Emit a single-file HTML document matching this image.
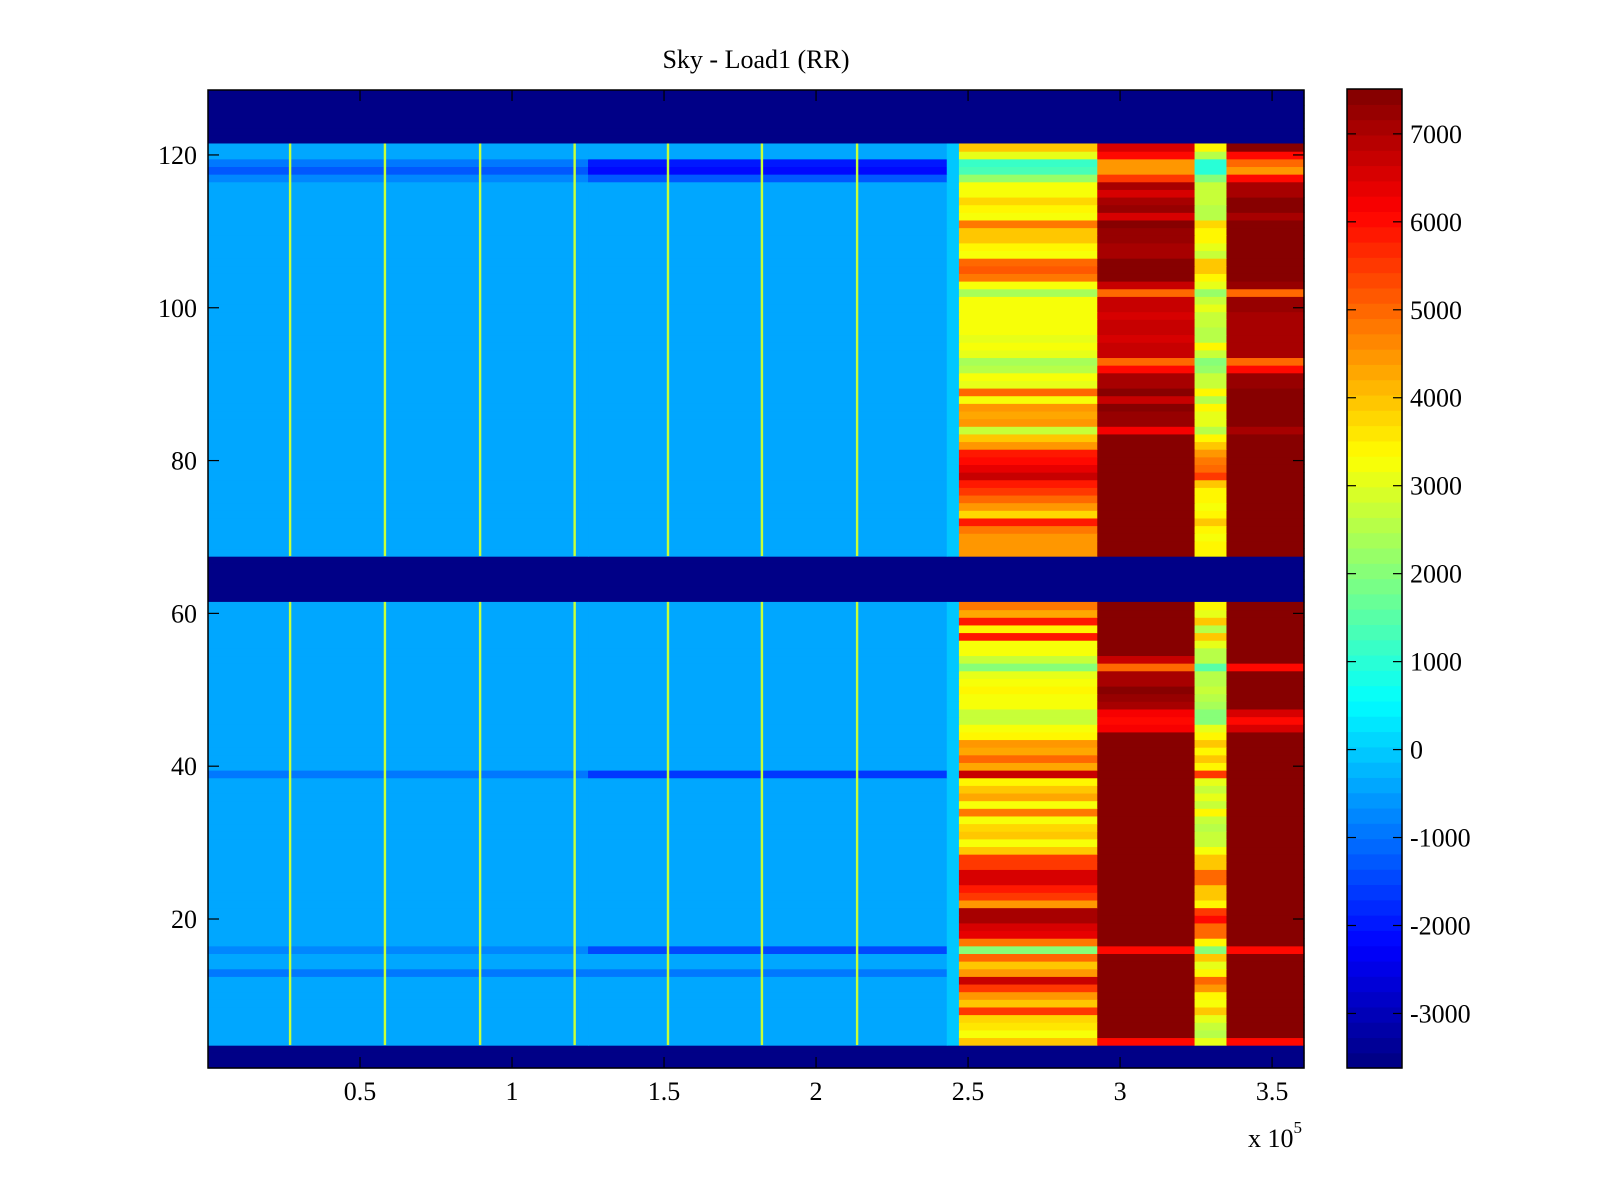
<!DOCTYPE html>
<html>
<head>
<meta charset="utf-8">
<style>
  html,body{margin:0;padding:0;background:#fff;}
  svg{display:block;font-family:"Liberation Serif","DejaVu Serif",serif;}
</style>
</head>
<body>
<svg id="chart" width="1600" height="1200" viewBox="0 0 1600 1200" xmlns="http://www.w3.org/2000/svg">
  <rect x="0" y="0" width="1600" height="1200" fill="#fff"/>
  <text x="756" y="68" font-size="26" text-anchor="middle">Sky - Load1 (RR)</text>
  <g id="heat"></g>
  <g id="vlines"></g>
  <rect x="208" y="90" width="1096" height="978" fill="none" stroke="#000" stroke-width="1.5"/>
  <g id="xaxis"></g>
  <g id="yaxis"></g>
  <text x="1248" y="1147" font-size="26">x 10<tspan dy="-14" font-size="17">5</tspan></text>
  <g id="cbar"></g>
</svg>
<script>
// ---- data ----
const clim = [-3620, 7510];
const blankValue = -3620;
const xEdges = [0, 1.25, 2.43, 2.47, 2.925, 3.245, 3.35, 3.605]; // x10^5
const region1Base = -450;
const region1Edge = -100;
const region1Rows = [119, 118, 117, 39, 16, 13];
const region1A = [-1000, -1200, -800, -900, -800, -900];
const region1B = [-2000, -2200, -1300, -1700, -1400, -1000];
const stripeX = [0.27, 0.582, 0.895, 1.206, 1.513, 1.822, 2.135];
const stripeValue = 2800;
const blankRows = [128,127,126,125,124,123,122,67,66,65,64,63,62,3,2,1];
// rows 121..68
const seg2Upper = [4000,3000,1200,1300,2200,3300,3300,3800,3500,3200,4800,4000,4000,3500,3300,5000,5200,4800,3300,2300,3200,3300,3200,3300,3200,3000,3200,3000,2300,2500,3200,3000,5000,3200,4500,4300,4500,2800,4000,4500,5800,6000,6300,6800,5800,5500,5000,4500,3800,5800,4800,4500,4500,4500];
const seg3Upper = [6500,6000,4500,4500,5500,7000,6500,7000,7200,6500,7500,7300,7300,7000,7000,7500,7500,7500,6800,5000,6800,6800,6500,6800,6800,6500,6800,6800,5000,6000,7000,7000,7500,6800,7500,7300,7300,6200,7500,7500,7500,7500,7500,7500,7500,7500,7500,7500,7500,7500,7500,7500,7500,7500];
const seg4Upper = [3500,2500,1000,1000,2000,2800,2800,2800,2500,2500,3800,3500,3500,3000,2800,4000,4000,3500,3000,2200,2800,3000,2800,2800,2500,2500,3500,2800,2000,2200,2800,2800,3500,2500,3500,3000,3000,2500,3500,4000,4500,4800,5000,5500,4000,3500,3500,3200,3500,4000,3500,3300,3500,3500];
const seg5Upper = [7500,6000,5000,4500,6000,7000,7000,7500,7500,7000,7500,7500,7500,7500,7500,7500,7500,7500,7300,5000,7300,7300,7000,7000,7000,7000,7000,7000,5000,6000,7300,7300,7500,7500,7500,7500,7500,7000,7500,7500,7500,7500,7500,7500,7500,7500,7500,7500,7500,7500,7500,7500,7500,7500];
// rows 61..4
const seg2Lower = [4800,4300,5800,3500,5800,3300,3200,2800,2000,3000,3200,3500,3300,3300,2700,2700,3300,3500,4500,4300,5000,4300,6800,3500,4000,4300,3300,4800,3300,3800,4000,3300,4000,5500,5500,6500,6500,5800,5500,4500,7000,7000,6500,6300,4800,2000,5000,4000,4500,6800,5500,4500,4000,5500,3800,3600,3300,4000];
const seg3Lower = [7500,7500,7500,7500,7500,7500,7500,6800,5000,7000,7000,7500,7200,7000,6200,6000,6200,7500,7500,7500,7500,7500,7500,7500,7500,7500,7500,7500,7500,7500,7500,7500,7500,7500,7500,7500,7500,7500,7500,7500,7500,7500,7500,7500,7500,6000,7500,7500,7500,7500,7500,7500,7500,7500,7500,7500,7500,6000];
const seg4Lower = [3500,3000,4000,2500,4000,3000,2500,2500,1500,2500,2500,2800,2500,2300,2000,2000,3000,3500,4000,3500,4000,3500,5500,3000,2800,3000,2800,3500,2800,2500,2800,2800,3200,4000,4000,5000,5000,4000,4000,3500,5500,6000,5000,5000,3500,2000,4000,3000,3500,5000,4500,3500,3300,4000,3000,2800,2500,3000];
const seg5Lower = [7500,7500,7500,7500,7500,7500,7500,7500,6000,7500,7500,7500,7500,7500,6500,6000,6500,7500,7500,7500,7500,7500,7500,7500,7500,7500,7500,7500,7500,7500,7500,7500,7500,7500,7500,7500,7500,7500,7500,7500,7500,7500,7500,7500,7500,6000,7500,7500,7500,7500,7500,7500,7500,7500,7500,7500,7500,6000];
const xTicks = [0.5, 1, 1.5, 2, 2.5, 3, 3.5];
const xTickLabels = ["0.5","1","1.5","2","2.5","3","3.5"];
const yTicks = [20, 40, 60, 80, 100, 120];
const yTickLabels = ["20","40","60","80","100","120"];
const cTicks = [-3000,-2000,-1000,0,1000,2000,3000,4000,5000,6000,7000];
const cTickLabels = ["-3000","-2000","-1000","0","1000","2000","3000","4000","5000","6000","7000"];

// ---- scales ----
const PL=208, PR=1304, PT=90, PB=1068;
const xMin=0, xMax=3.605, yMin=0.5, yMax=128.5;
function xs(v){return PL+(v-xMin)/(xMax-xMin)*(PR-PL);}
function ys(v){return PT+(yMax-v)/(yMax-yMin)*(PB-PT);}
const CL=1347, CR=1402, CT=89, CB=1068;
function cs(v){return CB-(v-clim[0])/(clim[1]-clim[0])*(CB-CT);}
function jet(v){
  let t=(v-clim[0])/(clim[1]-clim[0]);
  t=Math.max(0,Math.min(1,t));
  t=(Math.min(63,Math.floor(t*64))+0.5)/64;
  const c=x=>Math.round(255*Math.max(0,Math.min(1,x)));
  return `rgb(${c(1.5-Math.abs(4*t-3))},${c(1.5-Math.abs(4*t-2))},${c(1.5-Math.abs(4*t-1))})`;
}
const NS="http://www.w3.org/2000/svg";
function mk(tag,attrs,parent){const e=document.createElementNS(NS,tag);for(const k in attrs)e.setAttribute(k,attrs[k]);parent.appendChild(e);return e;}

// ---- heatmap ----
const heat=document.getElementById('heat');
const rowVals={};
for(let i=0;i<seg2Upper.length;i++){rowVals[121-i]=[seg2Upper[i],seg3Upper[i],seg4Upper[i],seg5Upper[i]];}
for(let i=0;i<seg2Lower.length;i++){rowVals[61-i]=[seg2Lower[i],seg3Lower[i],seg4Lower[i],seg5Lower[i]];}
function cell(x0,x1,r,v,name){
  const y0=ys(r+0.5), y1=ys(r-0.5);
  const e=mk('rect',{x:xs(x0).toFixed(2),y:y0.toFixed(2),width:(xs(x1)-xs(x0)+0.6).toFixed(2),height:(y1-y0+0.6).toFixed(2),fill:jet(v)},heat);
  
  
}
for(const r of blankRows){cell(xEdges[0],xEdges[xEdges.length-1],r,blankValue,'blank-row');}
for(const rk in rowVals){
  const r=+rk, vals=rowVals[rk];
  const k=region1Rows.indexOf(r);
  const a=k>=0?region1A[k]:region1Base, b=k>=0?region1B[k]:region1Base;
  cell(xEdges[0],xEdges[1],r,a,'cell-region1a');
  cell(xEdges[1],xEdges[2],r,b,'cell-region1b');
  cell(xEdges[2],xEdges[3],r,region1Edge,'cell-region1-edge');
  cell(xEdges[3],xEdges[4],r,vals[0],'cell-region2');
  cell(xEdges[4],xEdges[5],r,vals[1],'cell-region3');
  cell(xEdges[5],xEdges[6],r,vals[2],'cell-region4');
  cell(xEdges[6],xEdges[7],r,vals[3],'cell-region5');
}
// vertical stripes
const vl=document.getElementById('vlines');
const bands=[[121,68],[61,4]];
for(const sx of stripeX){
  for(const [hi,lo] of bands){
    const e=mk('rect',{x:(xs(sx)-1.2).toFixed(2),y:ys(hi+0.5).toFixed(2),width:2.4,height:(ys(lo-0.5)-ys(hi+0.5)).toFixed(2),fill:jet(stripeValue)},vl);
    
    
  }
}
// ---- axes ----
const xa=document.getElementById('xaxis');
xTicks.forEach((t,i)=>{
  const x=xs(t);
  const a=mk('line',{x1:x,x2:x,y1:PB,y2:PB-11,stroke:'#000','stroke-width':1.2},xa);
  
  
  const b=mk('line',{x1:x,x2:x,y1:PT,y2:PT+11,stroke:'#000','stroke-width':1.2},xa);
  
  
  const tx=mk('text',{x:x,y:1100,'font-size':26,'text-anchor':'middle'},xa);
  tx.textContent=xTickLabels[i];
  
  
});
const ya=document.getElementById('yaxis');
yTicks.forEach((t,i)=>{
  const y=ys(t);
  const a=mk('line',{x1:PL,x2:PL+11,y1:y,y2:y,stroke:'#000','stroke-width':1.2},ya);
  
  
  const b=mk('line',{x1:PR,x2:PR-11,y1:y,y2:y,stroke:'#000','stroke-width':1.2},ya);
  
  
  const tx=mk('text',{x:197,y:y+9,'font-size':26,'text-anchor':'end'},ya);
  tx.textContent=yTickLabels[i];
  
  
});
// ---- colorbar ----
const cb=document.getElementById('cbar');
for(let i=0;i<64;i++){
  const v0=clim[0]+(clim[1]-clim[0])*i/64, v1=clim[0]+(clim[1]-clim[0])*(i+1)/64;
  const e=mk('rect',{x:CL,y:cs(v1).toFixed(2),width:CR-CL,height:(cs(v0)-cs(v1)+0.6).toFixed(2),fill:jet((v0+v1)/2)},cb);
  
  
}
const fr=mk('rect',{x:CL,y:CT,width:CR-CL,height:CB-CT,fill:'none',stroke:'#000','stroke-width':1.5},cb);


cTicks.forEach((t,i)=>{
  const y=cs(t);
  const a=mk('line',{x1:CL,x2:CL+9,y1:y,y2:y,stroke:'#000','stroke-width':1.2},cb);
  
  
  const b=mk('line',{x1:CR,x2:CR-9,y1:y,y2:y,stroke:'#000','stroke-width':1.2},cb);
  
  
  const tx=mk('text',{x:1410,y:y+9,'font-size':26},cb);
  tx.textContent=cTickLabels[i];
  
  
});
</script>
</body>
</html>
